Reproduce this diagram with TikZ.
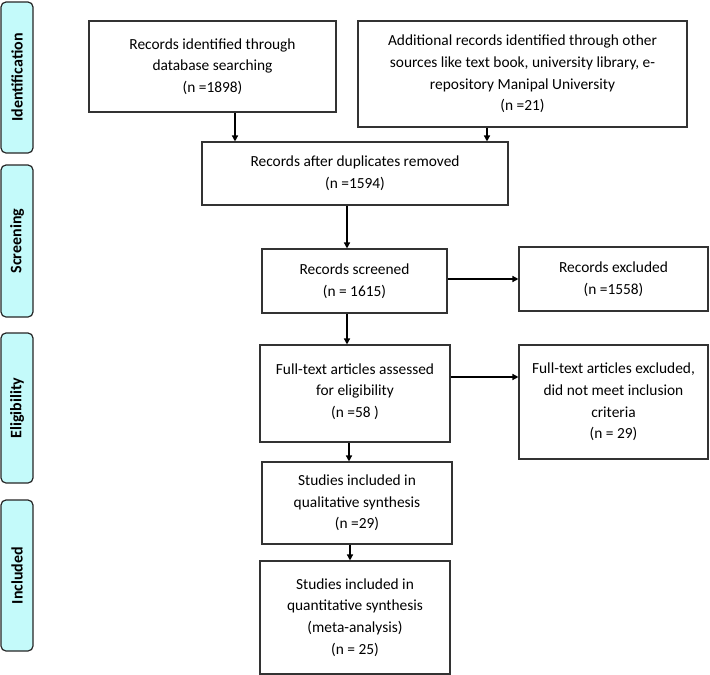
\documentclass[tikz,border=0pt]{standalone}
\usepackage{fontspec}
\setmainfont{Carlito}
\usepackage{xcolor}
\usetikzlibrary{arrows.meta}

\definecolor{phasefill}{RGB}{196,250,250}

\begin{document}
\begin{tikzpicture}[x=1pt,y=-1pt,
	box/.style={draw=black!80, line width=1.1pt, align=center, inner sep=0pt,
		font=\fontsize{15.4}{21.7}\selectfont},
	phase/.style={draw=black!85, fill=phasefill, line width=1.2pt, rounded corners=5pt,
		rotate=90, minimum height=32pt, inner sep=0pt,
		font=\fontsize{16}{18}\selectfont\bfseries},
	arr/.style={-{Triangle[length=6pt,width=6pt]}, line width=1.4pt}]

\useasboundingbox (0,0) rectangle (710,675);

% phases
\node[phase, minimum width=151pt] (ident) at (17,77.5) {Identification};
\node[phase, minimum width=152pt] (screen) at (17,241) {Screening};
\node[phase, minimum width=150pt] (elig) at (17,408) {Eligibility};
\node[phase, minimum width=151pt] (incl) at (17,575.5) {Included};

% boxes
\node[box, minimum width=247pt, minimum height=91pt] (db) at (212.5,66.5)
	{Records identified through\\database searching\\(n =1898)};
\node[box, minimum width=329pt, minimum height=106pt] (other) at (522.5,74)
	{Additional records identified through other\\sources like text book, university library, e-\\repository Manipal University\\(n =21)};
\node[box, minimum width=306pt, minimum height=63pt] (dup) at (355,173.5)
	{Records after duplicates removed\\(n =1594)};
\node[box, minimum width=185pt, minimum height=64pt] (scr) at (354.5,281)
	{Records screened\\(n = 1615)};
\node[box, minimum width=189pt, minimum height=64pt] (excl) at (613.5,279)
	{Records excluded\\(n =1558)};
\node[box, minimum width=190pt, minimum height=97pt, text depth=6pt] (full) at (355,393.5)
	{Full-text articles assessed\\for eligibility\\(n =58 )};
\node[box, minimum width=189pt, minimum height=114pt] (fexcl) at (613.5,402)
	{Full-text articles excluded,\\did not meet inclusion\\criteria\\(n = 29)};
\node[box, minimum width=190pt, minimum height=82pt] (qual) at (357,503)
	{Studies included in\\qualitative synthesis\\(n =29)};
\node[box, minimum width=190pt, minimum height=113pt] (quant) at (355,617.5)
	{Studies included in\\quantitative synthesis\\(meta-analysis)\\(n = 25)};

% arrows
\draw[arr] ([xshift=22.5pt]db.south) -- ([xshift=22.5pt]db.south |- dup.north);
\draw[arr] ([xshift=-35.5pt]other.south) -- ([xshift=-35.5pt]other.south |- dup.north);
\draw[arr] ([xshift=-8pt]dup.south) -- ([xshift=-8pt]dup.south |- scr.north);
\draw[arr] ([yshift=2pt]scr.east) -- ([yshift=2pt]scr.east -| excl.west);
\draw[arr] ([xshift=-7.5pt]scr.south) -- ([xshift=-7.5pt]scr.south |- full.north);
\draw[arr] ([yshift=16.5pt]full.east) -- ([yshift=16.5pt]full.east -| fexcl.west);
\draw[arr] ([xshift=-6pt]full.south) -- ([xshift=-6pt]full.south |- qual.north);
\draw[arr] ([xshift=-7pt]qual.south) -- ([xshift=-7pt]qual.south |- quant.north);

\end{tikzpicture}
\end{document}
